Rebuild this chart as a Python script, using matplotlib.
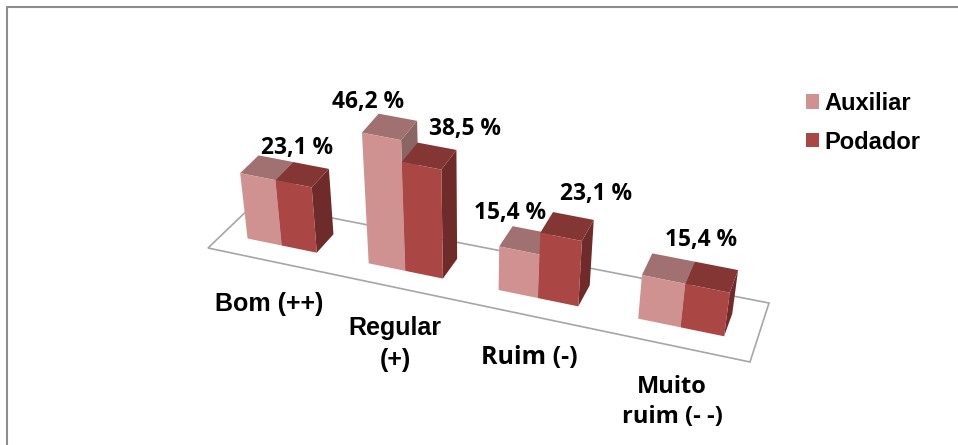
import numpy as np
import matplotlib
matplotlib.use('Agg')
import matplotlib.pyplot as plt
from matplotlib.patches import Patch, Polygon

categories = ['Bom (++)', 'Regular\n(+)', 'Ruim (-)', 'Muito\nruim (- -)']
series = ['Auxiliar', 'Podador']
auxiliar = [23.1, 46.2, 15.4, 15.4]
podador = [23.1, 38.5, 23.1, 15.4]
value_labels = ['23,1 %', '46,2 %', '38,5 %', '15,4 %', '23,1 %', '15,4 %']

W, H = 958, 445
# floor plane corners on the canvas: front-left, front-right, back-right, back-left
FLOOR_UD = [(0, 0), (4, 0), (4, 1), (0, 1)]
FLOOR_XY = [(208, 248), (750, 362), (769, 303), (255, 203)]
PX_PER_UNIT = 2.83
VANISH_X = 470
TILT = 5.1e-4
BAR_W = 0.29
D0, D1 = 0.31, 0.70


def fit_homography(src, dst):
    A, b = [], []
    for (u, d), (x, y) in zip(src, dst):
        A.append([u, d, 1, 0, 0, 0, -u * x, -d * x])
        A.append([0, 0, 0, u, d, 1, -u * y, -d * y])
        b += [x, y]
    return np.append(np.linalg.solve(np.array(A, float), np.array(b, float)), 1).reshape(3, 3)


FLOOR = fit_homography(FLOOR_UD, FLOOR_XY)


def project(u, d, v=0):
    px = FLOOR @ np.array([u, d, 1.0])
    x, y = px[:2] / px[2]
    lift = v * PX_PER_UNIT
    return x + (x - VANISH_X) * TILT * lift, y - lift


def draw_bar(ax, u, value, front, top, side):
    l, r = u, u + BAR_W
    ax.add_patch(Polygon([project(r, D0), project(r, D1), project(r, D1, value), project(r, D0, value)],
                         fc=side, ec='none'))
    ax.add_patch(Polygon([project(l, D0, value), project(r, D0, value), project(r, D1, value), project(l, D1, value)],
                         fc=top, ec='none'))
    ax.add_patch(Polygon([project(l, D0), project(r, D0), project(r, D0, value), project(l, D0, value)],
                         fc=front, ec='none'))


fig = plt.figure(figsize=(W / 100, H / 100), dpi=100)
ax = fig.add_axes([0, 0, 1, 1])
ax.set_xlim(0, W)
ax.set_ylim(H, 0)
ax.axis('off')

# chart area border, only top and left show
ax.plot([7, 7, W], [H, 7, 7], color='#8c8c8c', lw=1.5)

floor_pts = [project(u, d) for u, d in FLOOR_UD]
ax.add_patch(Polygon(floor_pts, closed=True, fc='white', ec='#a6a6a6', lw=1.2))

for i in range(len(categories)):
    left = i + 0.5 - BAR_W
    draw_bar(ax, left, auxiliar[i], '#d09291', '#a07170', '#8a6563')
    draw_bar(ax, left + BAR_W, podador[i], '#aa4643', '#843634', '#6e2b29')

label_pos = [(297, 148), (368, 102), (465, 129), (510, 213), (596, 194), (701, 240)]
for txt, (x, y) in zip(value_labels, label_pos):
    ax.text(x, y, txt, ha='center', va='center', fontsize=16.4, fontweight='bold',
            family='Open Sans', color='black')

cat_pos = [(269, 304), (395, 344), (529, 358), (672, 402)]
cat_fonts = ['Liberation Sans', 'Liberation Sans', 'Open Sans', 'Open Sans']
cat_sizes = [18, 18, 18, 17]
for txt, (x, y), fam, size in zip(categories, cat_pos, cat_fonts, cat_sizes):
    ax.text(x, y, txt, ha='center', va='center', fontsize=size, fontweight='bold',
            family=fam, color='black', linespacing=1.3 if fam == 'Open Sans' else 1.45)

handles = [Patch(fc='#d09291', ec='none'), Patch(fc='#aa4643', ec='none')]
ax.legend(handles, series, loc='upper left', bbox_to_anchor=(806 / W, 1 - 92 / H), frameon=False,
          prop={'family': 'Liberation Sans', 'weight': 'bold', 'size': 17}, borderpad=0, borderaxespad=0,
          handlelength=0.56, handleheight=0.56, handletextpad=0.22, labelspacing=0.66)

fig.savefig('out.png', dpi=100)
plt.close(fig)
